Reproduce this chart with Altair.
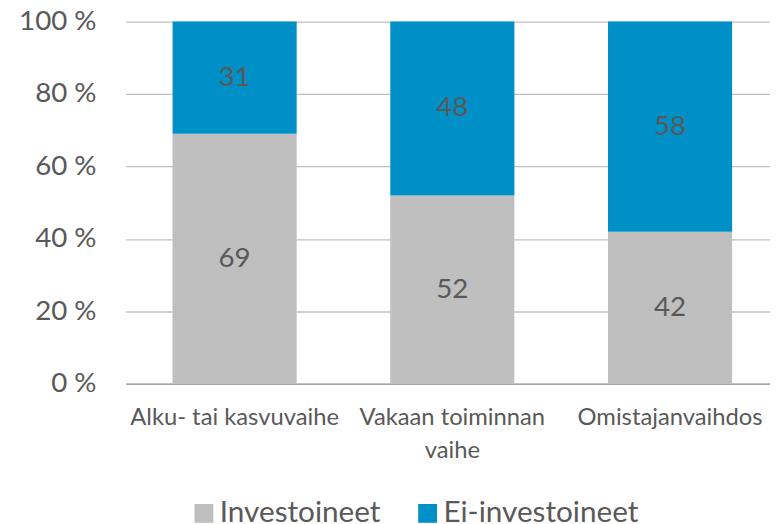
import altair as alt
import pandas as pd

categories = ["Alku- tai kasvuvaihe", "Vakaan toiminnan vaihe", "Omistajanvaihdos"]
investoineet = [69, 52, 42]
ei_investoineet = [31, 48, 58]
series = ["Investoineet", "Ei-investoineet"]
colors = ["#BFBFBF", "#0090C8"]
y_ticks = [0, 20, 40, 60, 80, 100]

rows = []
for i, c in enumerate(categories):
    rows.append({"cat": c, "series": series[0], "value": investoineet[i], "ord": 0})
    rows.append({"cat": c, "series": series[1], "value": ei_investoineet[i], "ord": 1})
df = pd.DataFrame(rows)

FONT = "Lato"
TXT = "#595959"

base = alt.Chart(df).transform_stack(
    stack="value", groupby=["cat"], as_=["y0", "y1"], sort=[alt.SortField("ord")]
).transform_calculate(mid="(datum.y0 + datum.y1) / 2")

x_enc = alt.X(
    "cat:N",
    sort=categories,
    title=None,
    scale=alt.Scale(range=[0, 660], paddingInner=0.43, paddingOuter=0.215),
    axis=alt.Axis(
        labelAngle=0,
        labelFont=FONT,
        labelFontSize=24,
        labelColor=TXT,
        labelPadding=22,
        labelLineHeight=34,
        labelLimit=400,
        ticks=False,
        domainColor="#A6A6A6",
        domainWidth=1.5,
        labelExpr="datum.value == 'Vakaan toiminnan vaihe' ? ['Vakaan toiminnan', 'vaihe'] : datum.label",
    ),
)

bars = base.mark_bar().encode(
    x=x_enc,
    y=alt.Y(
        "y0:Q",
        title=None,
        scale=alt.Scale(domain=[0, 100], nice=False),
        axis=alt.Axis(
            values=y_ticks,
            labelExpr="datum.value + ' %'",
            labelFont=FONT,
            labelFontSize=28,
            labelColor=TXT,
            labelPadding=30,
            ticks=False,
            domain=False,
            gridColor="#BFBFBF",
            gridWidth=1.3,
        ),
    ),
    y2="y1:Q",
    color=alt.Color(
        "series:N",
        sort=series,
        scale=alt.Scale(domain=series, range=colors),
        legend=alt.Legend(
            title=None,
            orient="none",
            legendX=64,
            legendY=482,
            direction="horizontal",
            symbolType="square",
            symbolSize=361,
            symbolStrokeWidth=0,
            labelFont=FONT,
            labelFontSize=30,
            labelColor=TXT,
            labelOffset=1,
            columnPadding=32,
            labelLimit=400,
        ),
    ),
    order=alt.Order("ord:Q"),
)

labels = base.mark_text(font=FONT, fontSize=28, color=TXT, baseline="middle").encode(
    x=alt.X("cat:N", sort=categories),
    y=alt.Y("mid:Q"),
    text=alt.Text("value:Q"),
)

chart = (
    alt.layer(bars, labels)
    .properties(
        width=651,
        height=366,
        autosize=alt.AutoSizeParams(type="none"),
        padding={"left": 119, "top": 11, "right": 0, "bottom": 139},
    )
    .configure_view(stroke=None)
)

chart.save("out.html", embed_options={"renderer": "svg", "actions": False})
